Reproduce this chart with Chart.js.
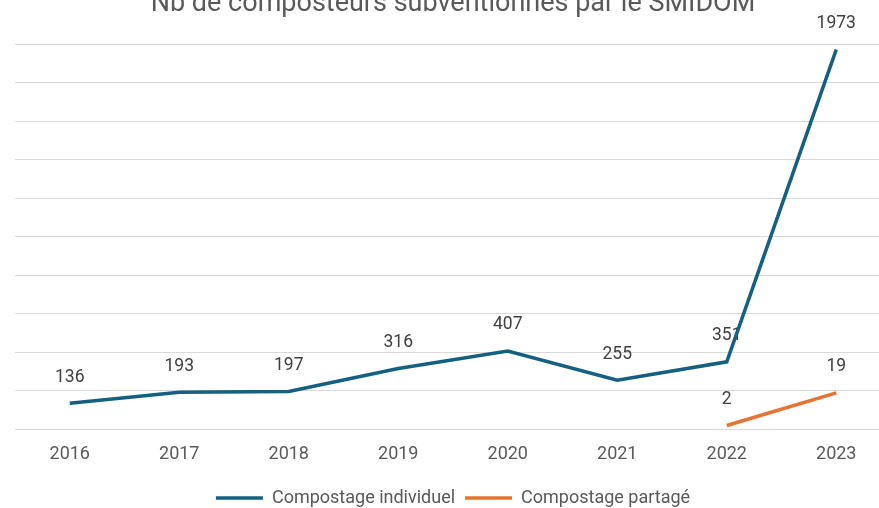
<!DOCTYPE html>
<html>
<head>
<meta charset="utf-8">
<script src="https://cdn.jsdelivr.net/npm/chart.js@4"></script>
<style>
  html, body { margin: 0; padding: 0; background: #fff; overflow: hidden; }
  #wrap { position: absolute; left: 0; top: -12px; width: 900px; height: 529px; }
</style>
</head>
<body>
<div id="wrap"><canvas id="chart"></canvas></div>
<script>
// données
const annees = ["2016", "2017", "2018", "2019", "2020", "2021", "2022", "2023"];
const individuel = [136, 193, 197, 316, 407, 255, 351, 1973];
const partage = [null, null, null, null, null, null, 2, 19];

const bleu = "#156082";
const orange = "#E97132";
const gris = "#595959";
const police = "Roboto, 'Noto Sans', sans-serif";

// étiquettes de valeurs au-dessus des points
const etiquettes = {
    id: "etiquettes",
    beforeDatasetsDraw(chart) {
        const ctx = chart.ctx;
        ctx.save();
        ctx.font = "17.5px " + police;
        ctx.fillStyle = "#404040";
        ctx.textAlign = "center";
        ctx.textBaseline = "middle";
        chart.data.datasets.forEach((ds, i) => {
            chart.getDatasetMeta(i).data.forEach((pt, j) => {
                const v = ds.data[j];
                if (v === null) return;
                ctx.fillText(String(v), pt.x, pt.y - 26);
            });
        });
        ctx.restore();
    }
};

new Chart(document.getElementById("chart"), {
    type: "line",
    data: {
        labels: annees,
        datasets: [
            {
                label: "Compostage individuel",
                data: individuel,
                borderColor: bleu,
                backgroundColor: bleu,
                borderWidth: 3.5,
                pointRadius: 0,
                yAxisID: "y",
            },
            {
                label: "Compostage partagé",
                data: partage,
                borderColor: orange,
                backgroundColor: orange,
                borderWidth: 3.5,
                pointRadius: 0,
                yAxisID: "y1",
            },
        ],
    },
    options: {
        responsive: true,
        maintainAspectRatio: false,
        animation: false,
        layout: { padding: { left: 15, right: 9, top: 0, bottom: 0 } },
        plugins: {
            title: {
                display: true,
                text: "Nb de composteurs subventionnés par le SMIDOM",
                color: gris,
                font: { family: police, size: 27, weight: "normal" },
                padding: { top: 0, bottom: 24 },
            },
            legend: {
                position: "bottom",
                labels: {
                    color: gris,
                    font: { family: police, size: 18 },
                    usePointStyle: true,
                    pointStyle: "line",
                    pointStyleWidth: 47,
                    padding: 10,
                },
            },
            tooltip: { enabled: false },
        },
        scales: {
            x: {
                offset: true,
                grid: { display: false, drawTicks: false },
                border: { display: false },
                ticks: { color: gris, font: { family: police, size: 18 }, padding: 14 },
            },
            y: {
                min: 0,
                max: 2000,
                ticks: { display: false, stepSize: 200 },
                grid: { color: "#d9d9d9", lineWidth: 1, drawTicks: false },
                border: { display: false },
            },
            y1: {
                display: false,
                min: 0,
                max: 200,
            },
        },
    },
    plugins: [etiquettes],
});
</script>
</body>
</html>
